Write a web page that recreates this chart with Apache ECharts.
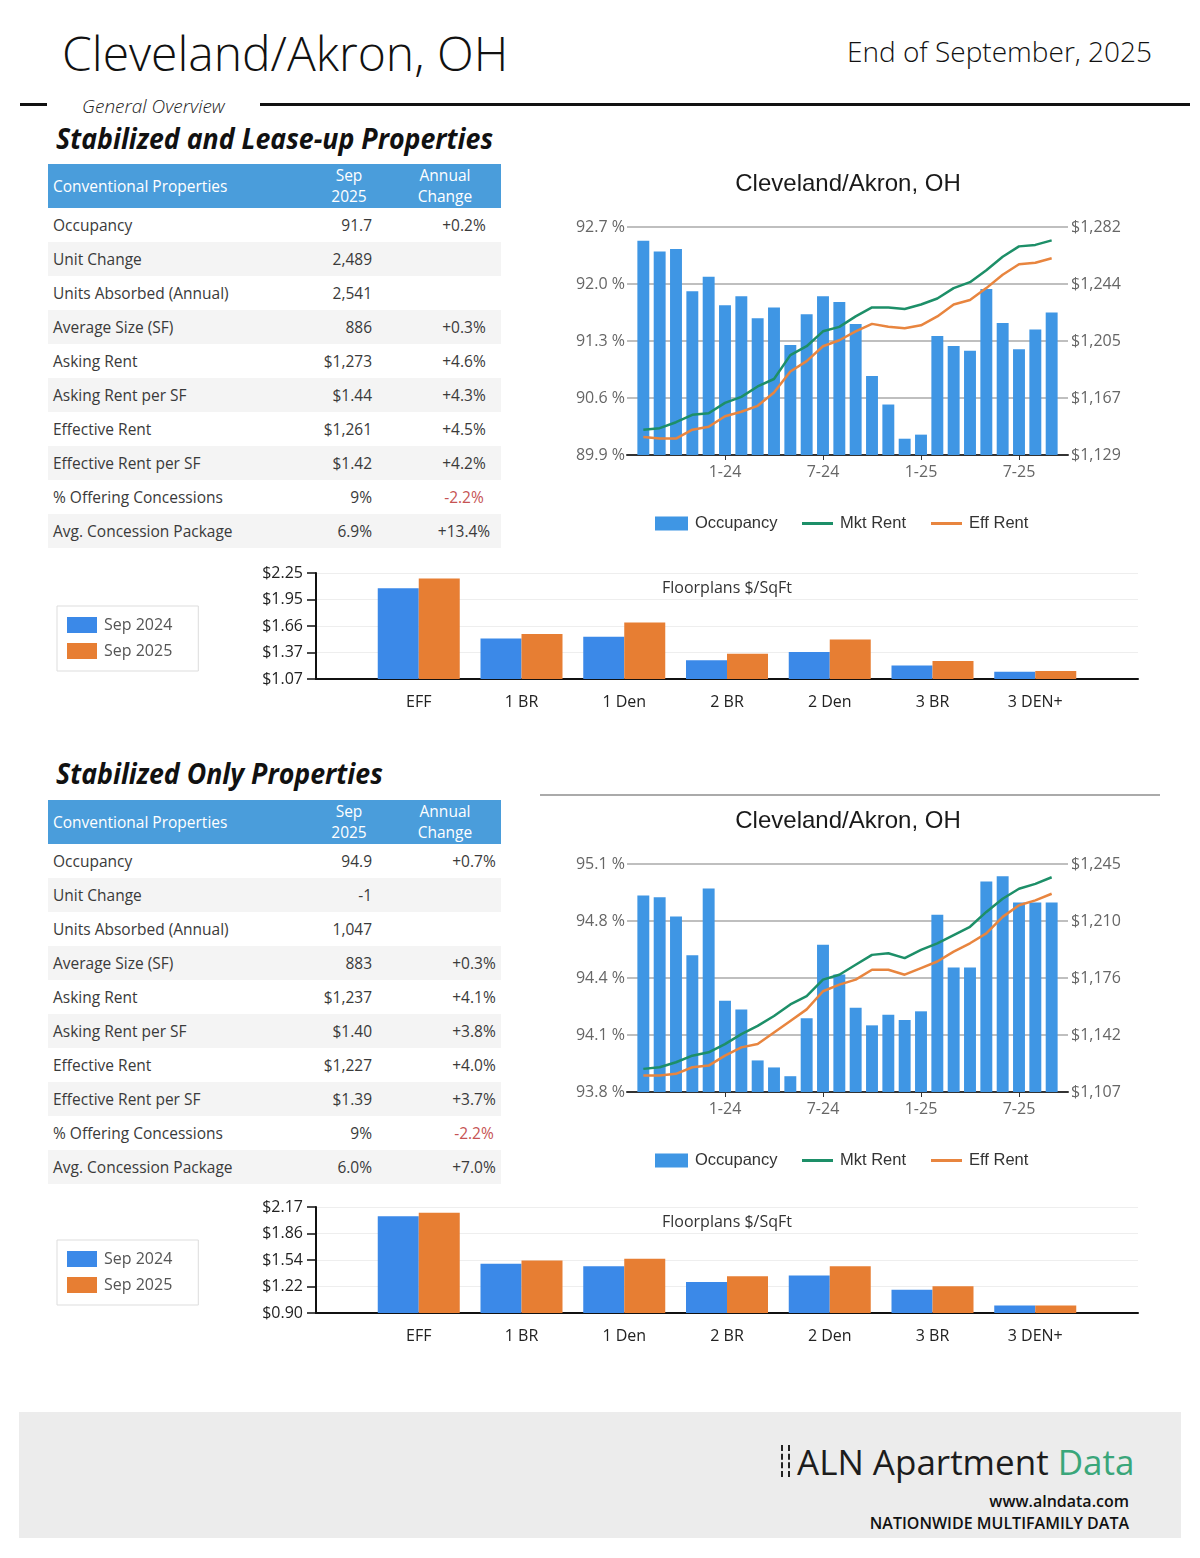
<!DOCTYPE html>
<html>
<head>
<meta charset="utf-8">
<script src="https://cdn.jsdelivr.net/npm/echarts@6/dist/echarts.min.js"></script>
<style>
  html, body { margin: 0; padding: 0; }
  body { width: 1200px; height: 1558px; position: relative; background: #fff; font-family: 'Open Sans', sans-serif; color: #333; overflow: hidden; }
  .abs { position: absolute; }
  .title { left: 62px; top: 29px; font-size: 48px; font-weight: 300; color: #111; line-height: 1; white-space: nowrap; }
  .date { right: 48px; top: 37px; font-size: 28px; font-weight: 300; color: #111; line-height: 1; white-space: nowrap; }
  .rule { background: #111; height: 3px; }
  .overview { left: 82px; top: 97px; font-size: 19px; font-style: italic; font-weight: 300; color: #222; line-height: 1; }
  .section { left: 56px; font-size: 28px; font-style: italic; font-weight: 700; color: #111; line-height: 1; white-space: nowrap; transform: scaleX(0.955); transform-origin: left center; }
  .tbl { left: 48px; width: 453px; font-size: 15.5px; }
  .thead { position: relative; height: 44px; background: #4a9ddb; color: #fff; }
  .thead .c0 { position: absolute; left: 5px; top: 0; line-height: 44px; }
  .thead .c1 { position: absolute; left: 266px; width: 70px; top: 0; text-align: center; line-height: 21px; padding-top: 1px; }
  .thead .c2 { position: absolute; left: 352px; width: 90px; top: 0; text-align: center; line-height: 21px; padding-top: 1px; }
  .trow { position: relative; height: 34px; line-height: 34px; background: #fff; color: #3a3a3a; }
  .trow.alt { background: #f4f4f4; }
  .trow .c0 { position: absolute; left: 5px; }
  .trow .c1 { position: absolute; right: 129px; }
  .trow .c2 { position: absolute; width: 90px; text-align: center; }
  .neg { color: #c65353; }
  .chart { position: absolute; }
  .footer { left: 19px; top: 1412px; width: 1162px; height: 126px; background: #ececec; }
</style>
</head>
<body>
<div class="abs title">Cleveland/Akron, OH</div>
<div class="abs date">End of September, 2025</div>
<div class="abs rule" style="left:20px; top:103px; width:27px;"></div>
<div class="abs overview">General Overview</div>
<div class="abs rule" style="left:260px; top:103px; width:930px;"></div>

<div class="abs section" style="top:124px;">Stabilized and Lease-up Properties</div>
<div class="abs tbl" id="tbl1" style="top:164px;"></div>
<div class="chart" id="combo1" style="left:540px; top:150px; width:640px; height:400px;"></div>
<div class="chart" id="fp1" style="left:40px; top:555px; width:1120px; height:170px;"></div>

<div class="abs section" style="top:759px;">Stabilized Only Properties</div>
<div class="abs" style="left:540px; top:794px; width:620px; height:2px; background:#aaa;"></div>
<div class="abs tbl" id="tbl2" style="top:800px;"></div>
<div class="chart" id="combo2" style="left:540px; top:787px; width:640px; height:400px;"></div>
<div class="chart" id="fp2" style="left:40px; top:1189px; width:1120px; height:170px;"></div>

<div class="abs footer"></div>
<div class="abs" style="left:781px; top:1445px; width:0; height:32px; border-left:2px dashed #222;"></div>
<div class="abs" style="left:788px; top:1445px; width:0; height:32px; border-left:2px dashed #222;"></div>
<div class="abs" style="left:797px; top:1439px; font-size:35px; line-height:46px; color:#1c1c1c; white-space:nowrap;">ALN Apartment <span style="color:#3aa67a;">Data</span></div>
<div class="abs" style="right:71px; top:1490px; font-size:16px; font-weight:600; color:#111; line-height:22px;">www.alndata.com</div>
<div class="abs" style="right:71px; top:1512px; font-size:16px; font-weight:600; color:#111; line-height:22px;">NATIONWIDE MULTIFAMILY DATA</div>

<script>
// ---------- data ----------
const months = ['8-23','9-23','10-23','11-23','12-23','1-24','2-24','3-24','4-24','5-24','6-24','7-24','8-24','9-24','10-24','11-24','12-24','1-25','2-25','3-25','4-25','5-25','6-25','7-25','8-25','9-25'];

const occ1 = [92.53, 92.40, 92.43, 91.91, 92.09, 91.74, 91.85, 91.58, 91.71, 91.25, 91.63, 91.85, 91.78, 91.51, 90.87, 90.52, 90.10, 90.15, 91.36, 91.24, 91.18, 91.94, 91.52, 91.20, 91.44, 91.65];
const mkt1 = [1146, 1147, 1151, 1156, 1157, 1164, 1168, 1175, 1180, 1196, 1202, 1212, 1215, 1222, 1228, 1228, 1227, 1230, 1234, 1241, 1245, 1253, 1262, 1269, 1270, 1273];
const eff1 = [1141, 1140, 1140, 1146, 1148, 1155, 1158, 1162, 1171, 1185, 1192, 1202, 1206, 1212, 1217, 1215, 1214, 1216, 1222, 1230, 1233, 1241, 1250, 1257, 1258, 1261];

const occ2 = [94.92, 94.91, 94.80, 94.58, 94.96, 94.32, 94.27, 93.98, 93.94, 93.89, 94.22, 94.64, 94.47, 94.28, 94.18, 94.24, 94.21, 94.26, 94.81, 94.51, 94.51, 95.00, 95.03, 94.88, 94.88, 94.88];
const mkt2 = [1121, 1122, 1125, 1129, 1131, 1136, 1142, 1147, 1153, 1160, 1165, 1175, 1178, 1184, 1190, 1191, 1188, 1193, 1197, 1202, 1207, 1216, 1224, 1230, 1233, 1237];
const eff2 = [1117, 1117, 1118, 1122, 1123, 1129, 1134, 1136, 1143, 1150, 1157, 1168, 1172, 1175, 1181, 1181, 1178, 1182, 1186, 1192, 1197, 1203, 1213, 1220, 1223, 1227];

const c1LeftTicks = ['89.9 %', '90.6 %', '91.3 %', '92.0 %', '92.7 %'];
const c1RightTicks = ['$1,129', '$1,167', '$1,205', '$1,244', '$1,282'];
const c2LeftTicks = ['93.8 %', '94.1 %', '94.4 %', '94.8 %', '95.1 %'];
const c2RightTicks = ['$1,107', '$1,142', '$1,176', '$1,210', '$1,245'];

const fpCats = ['EFF', '1 BR', '1 Den', '2 BR', '2 Den', '3 BR', '3 DEN+'];
const fp1Sep24 = [2.08, 1.52, 1.54, 1.28, 1.37, 1.22, 1.15];
const fp1Sep25 = [2.19, 1.57, 1.70, 1.35, 1.51, 1.27, 1.16];
const fp2Sep24 = [2.06, 1.49, 1.46, 1.27, 1.35, 1.18, 0.99];
const fp2Sep25 = [2.10, 1.53, 1.55, 1.34, 1.46, 1.22, 0.99];
const fp1Ticks = ['$1.07', '$1.37', '$1.66', '$1.95', '$2.25'];
const fp2Ticks = ['$0.90', '$1.22', '$1.54', '$1.86', '$2.17'];

const rowLabels = ['Occupancy', 'Unit Change', 'Units Absorbed (Annual)', 'Average Size (SF)', 'Asking Rent', 'Asking Rent per SF', 'Effective Rent', 'Effective Rent per SF', '% Offering Concessions', 'Avg. Concession Package'];
const t1Values = ['91.7', '2,489', '2,541', '886', '$1,273', '$1.44', '$1,261', '$1.42', '9%', '6.9%'];
const t1Changes = ['+0.2%', '', '', '+0.3%', '+4.6%', '+4.3%', '+4.5%', '+4.2%', '-2.2%', '+13.4%'];
const t2Values = ['94.9', '-1', '1,047', '883', '$1,237', '$1.40', '$1,227', '$1.39', '9%', '6.0%'];
const t2Changes = ['+0.7%', '', '', '+0.3%', '+4.1%', '+3.8%', '+4.0%', '+3.7%', '-2.2%', '+7.0%'];

// ---------- tables ----------
function buildTable(id, vals, chg, chgCenter) {
  const el = document.getElementById(id);
  let h = '<div class="thead"><span class="c0">Conventional Properties</span><span class="c1">Sep<br>2025</span><span class="c2">Annual<br>Change</span></div>';
  rowLabels.forEach((lab, i) => {
    const neg = chg[i].charAt(0) === '-' ? ' neg' : '';
    h += '<div class="trow' + (i % 2 ? ' alt' : '') + '"><span class="c0">' + lab + '</span><span class="c1">' + vals[i] +
         '</span><span class="c2' + neg + '" style="left:' + (chgCenter - 45) + 'px">' + chg[i] + '</span></div>';
  });
  el.innerHTML = h;
}
buildTable('tbl1', t1Values, t1Changes, 416);
buildTable('tbl2', t2Values, t2Changes, 426);

// ---------- charts ----------
const pad = a => [null].concat(a, [null]);
const tickLabel = (ticks, min, step) => v => ticks[Math.round((v - min) / step)] || '';

function combo(id, occ, mkt, eff, lt, rt, lmin, lmax, rmin, rmax) {
  const chart = echarts.init(document.getElementById(id));
  const ls = (lmax - lmin) / 4, rs = (rmax - rmin) / 4;
  const show = i => i > 0 && i < months.length + 1 && i % 6 === 0;
  const legendText = { fontFamily: 'Liberation Sans', fontSize: 16.5, color: '#333', padding: [0, 0, 0, 2] };
  chart.setOption({
    animation: false,
    title: { text: 'Cleveland/Akron, OH', left: 308, top: 22, textAlign: 'center', padding: 0,
      textStyle: { fontFamily: 'Liberation Sans', fontSize: 24, fontWeight: 'normal', color: '#1a1a1a' } },
    legend: [
      { left: 115, top: 365, padding: 0, itemWidth: 33, itemHeight: 14, textStyle: legendText,
        data: [{ name: 'Occupancy', icon: 'rect' }] },
      { left: 262, top: 365, padding: 0, itemWidth: 31, itemHeight: 3, itemGap: 25, textStyle: legendText,
        data: [{ name: 'Mkt Rent', icon: 'rect' }, { name: 'Eff Rent', icon: 'rect' }] }
    ],
    grid: { left: 87, top: 77, width: 441, height: 228 },
    xAxis: { type: 'category', data: pad(months), boundaryGap: false,
      axisLine: { lineStyle: { color: '#333', width: 2 } },
      axisTick: { show: true, interval: show, length: 5, lineStyle: { color: '#333' } },
      axisLabel: { interval: show, color: '#666', fontFamily: 'Open Sans', fontSize: 16, margin: 9 },
      splitLine: { show: false } },
    yAxis: [
      { type: 'value', min: lmin, max: lmax, interval: ls, position: 'left',
        axisLine: { show: false }, axisTick: { show: false },
        axisLabel: { formatter: tickLabel(lt, lmin, ls), color: '#666', fontFamily: 'Open Sans', fontSize: 16, margin: 2 },
        splitLine: { lineStyle: { color: '#aaa', width: 1.5 } } },
      { type: 'value', min: rmin, max: rmax, interval: rs, position: 'right',
        axisLine: { show: false }, axisTick: { show: false },
        axisLabel: { formatter: tickLabel(rt, rmin, rs), color: '#666', fontFamily: 'Open Sans', fontSize: 16, margin: 3 },
        splitLine: { show: false } }
    ],
    series: [
      { name: 'Occupancy', type: 'bar', data: pad(occ), yAxisIndex: 0, barWidth: '73%', itemStyle: { color: '#3f96e4' } },
      { name: 'Mkt Rent', type: 'line', data: pad(mkt), yAxisIndex: 1, symbol: 'none', lineStyle: { color: '#1d8f68', width: 2.5 }, itemStyle: { color: '#1d8f68' } },
      { name: 'Eff Rent', type: 'line', data: pad(eff), yAxisIndex: 1, symbol: 'none', lineStyle: { color: '#e8853f', width: 2.5 }, itemStyle: { color: '#e8853f' } }
    ]
  });
}

function floorplan(id, a, b, ticks, min, max) {
  const chart = echarts.init(document.getElementById(id));
  const st = (max - min) / 4;
  chart.setOption({
    animation: false,
    title: { text: 'Floorplans $/SqFt', left: 687, top: 25, textAlign: 'center', padding: 0,
      textStyle: { fontFamily: 'Open Sans', fontSize: 16, fontWeight: 'normal', color: '#333' } },
    legend: { orient: 'vertical', left: 17, top: 51, padding: [11, 26, 12, 10], itemGap: 10,
      itemWidth: 30, itemHeight: 16, borderColor: '#ddd', borderWidth: 1,
      textStyle: { fontFamily: 'Open Sans', fontSize: 16, color: '#555', padding: [0, 0, 0, 2] },
      data: [{ name: 'Sep 2024', icon: 'rect' }, { name: 'Sep 2025', icon: 'rect' }] },
    grid: { left: 276, top: 18, width: 822, height: 106 },
    xAxis: { type: 'category', data: [''].concat(fpCats, ['']), boundaryGap: false,
      axisLine: { lineStyle: { color: '#111', width: 2 } }, axisTick: { show: false },
      axisLabel: { color: '#222', fontFamily: 'Open Sans', fontSize: 16, margin: 15 } },
    yAxis: { type: 'value', min: min, max: max, interval: st,
      axisLine: { show: true, lineStyle: { color: '#111', width: 2 } },
      axisTick: { show: true, length: 9, lineStyle: { color: '#111', width: 1.5 } },
      axisLabel: { formatter: tickLabel(ticks, min, st), color: '#222', fontFamily: 'Open Sans', fontSize: 16, margin: 13 },
      splitLine: { lineStyle: { color: '#eee' } } },
    series: [
      { name: 'Sep 2024', type: 'bar', data: pad(a), barWidth: 41, barGap: '0%', itemStyle: { color: '#3b89e8' } },
      { name: 'Sep 2025', type: 'bar', data: pad(b), barWidth: 41, barGap: '0%', itemStyle: { color: '#e77e33' } }
    ]
  });
}

combo('combo1', occ1, mkt1, eff1, c1LeftTicks, c1RightTicks, 89.9, 92.7, 1129, 1282);
combo('combo2', occ2, mkt2, eff2, c2LeftTicks, c2RightTicks, 93.8, 95.1, 1107, 1245);
floorplan('fp1', fp1Sep24, fp1Sep25, fp1Ticks, 1.07, 2.25);
floorplan('fp2', fp2Sep24, fp2Sep25, fp2Ticks, 0.90, 2.17);
</script>
</body>
</html>
